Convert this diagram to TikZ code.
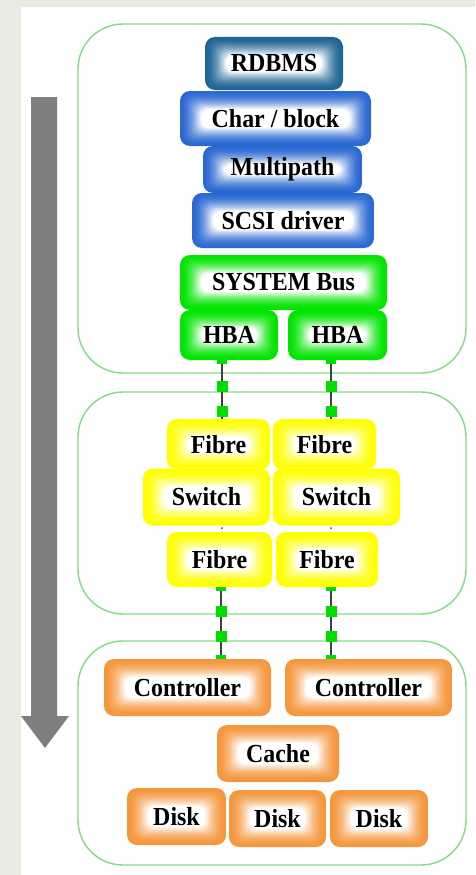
\documentclass[tikz,border=0pt]{standalone}
\usepackage{fontspec}
\setmainfont{Liberation Serif}
\newfontfamily\boxfont[FakeStretch=0.92]{Liberation Serif}
\definecolor{bg}{HTML}{EBEBE3}
\definecolor{frame}{HTML}{86D986}
\definecolor{arrowgray}{HTML}{7F7F7F}
\definecolor{cteal}{HTML}{1F6494}
\definecolor{cblue}{HTML}{2A68D2}
\definecolor{cgreen}{HTML}{00E400}
\definecolor{cyellow}{HTML}{FFFF00}
\definecolor{corange}{HTML}{F5963C}
\definecolor{cline}{HTML}{404040}
\definecolor{csq}{HTML}{00DD00}
\tikzset{
  boxcolor/.code={\colorlet{gc}{#1}},
  gbox/.style={rectangle, rounded corners=10pt, inner sep=0pt, fill=white,
    font=\boxfont\fontsize{26}{28}\selectfont\bfseries, text=black,
    path picture={
      \foreach \i in {0,...,18}{
        \pgfmathsetmacro\p{100*(1-(\i/18)^1.8)}
        \fill[gc!\p!white, rounded corners=8pt]
          ([xshift=\i*1.15pt, yshift=\i*1.0pt]path picture bounding box.south west)
          rectangle
          ([xshift=-\i*1.15pt, yshift=-\i*1.0pt]path picture bounding box.north east);
      }
    }},
  container/.style={draw=frame, line width=1.4pt, rounded corners=45pt},
  conn/.style={draw=cline, line width=1.2pt},
  sqbox/.style={fill=csq, inner sep=0pt, minimum width=11pt, minimum height=11pt},
  endcap/.style={fill=csq, inner sep=0pt, minimum width=10pt, minimum height=4pt},
}
\begin{document}
\begin{tikzpicture}[x=1pt, y=-1pt]
\useasboundingbox (0,0) rectangle (475,875);
\fill[bg] (0,0) rectangle (475,875);
\fill[white] (21,7) rectangle (475,875);

% direction arrow
\fill[arrowgray] (31,97) -- (57,97) -- (57,716) -- (69,716) -- (45,748) -- (21,716) -- (31,716) -- cycle;

% containers
\draw[container] (78,24) rectangle (466,373);
\draw[container] (78,392) rectangle (466,614);
\draw[container] (78,641) rectangle (466,865);

% host stack
\node[gbox, boxcolor=cteal, minimum width=138pt, minimum height=53pt] (rdbms) at (274,63.5) {RDBMS};
\node[gbox, boxcolor=cblue, minimum width=191pt, minimum height=55pt] (charblock) at (275.5,118.5) {Char / block};
\node[gbox, boxcolor=cblue, minimum width=159pt, minimum height=47pt] (multipath) at (282.5,169.5) {Multipath};
\node[gbox, boxcolor=cblue, minimum width=182pt, minimum height=55pt] (scsi) at (283,220.5) {SCSI driver};
\node[gbox, boxcolor=cgreen, minimum width=207pt, minimum height=55pt] (sysbus) at (283.5,282.5) {SYSTEM Bus};
\node[gbox, boxcolor=cgreen, minimum width=98pt, minimum height=50pt] (hbaL) at (229,335) {HBA};
\node[gbox, boxcolor=cgreen, minimum width=99pt, minimum height=50pt] (hbaR) at (337.5,335) {HBA};

% fabric
\node[gbox, boxcolor=cyellow, minimum width=103pt, minimum height=51pt] (ftl) at (218.5,444.5) {Fibre};
\node[gbox, boxcolor=cyellow, minimum width=103pt, minimum height=51pt] (ftr) at (324.5,444.5) {Fibre};
\node[gbox, boxcolor=cyellow, minimum width=127pt, minimum height=57pt] (swL) at (206.5,497) {Switch};
\node[gbox, boxcolor=cyellow, minimum width=127pt, minimum height=57pt] (swR) at (336.5,497) {Switch};
\node[gbox, boxcolor=cyellow, minimum width=105pt, minimum height=55pt] (fbl) at (219.5,559.5) {Fibre};
\node[gbox, boxcolor=cyellow, minimum width=102pt, minimum height=55pt] (fbr) at (327,559.5) {Fibre};

% storage
\node[gbox, boxcolor=corange, minimum width=167pt, minimum height=57pt] (ctrlL) at (187.5,687.5) {Controller};
\node[gbox, boxcolor=corange, minimum width=167pt, minimum height=57pt] (ctrlR) at (368.5,687.5) {Controller};
\node[gbox, boxcolor=corange, minimum width=122pt, minimum height=57pt] (cache) at (278,753.5) {Cache};
\node[gbox, boxcolor=corange, minimum width=99pt, minimum height=57pt] (disk1) at (176.5,816.5) {Disk};
\node[gbox, boxcolor=corange, minimum width=97pt, minimum height=57pt] (disk2) at (277.5,818.5) {Disk};
\node[gbox, boxcolor=corange, minimum width=98pt, minimum height=57pt] (disk3) at (379,818.5) {Disk};

% connectors
\coordinate (xa) at (222,0);
\coordinate (xb) at (331,0);
\coordinate (xc) at (221,0);
\draw[conn] (hbaL.south -| xa) -- (ftl.north -| xa);
\draw[conn] (hbaR.south -| xb) -- (ftr.north -| xb);
\draw[conn] (fbl.south -| xc) -- (ctrlL.north -| xc);
\draw[conn] (fbr.south -| xb) -- (ctrlR.north -| xb);

\node[endcap] (capA1) at (222,362) {};
\node[sqbox] (sqA1) at (222,386) {};
\node[sqbox] (sqA2) at (222,411) {};
\node[endcap] (capB1) at (331,362) {};
\node[sqbox] (sqB1) at (331,386) {};
\node[sqbox] (sqB2) at (331,411) {};
\node[endcap] (capC1) at (221,589) {};
\node[sqbox] (sqC1) at (221,611) {};
\node[sqbox] (sqC2) at (221,636) {};
\node[endcap] (capC2) at (221,657) {};
\node[endcap] (capD1) at (331,589) {};
\node[sqbox] (sqD1) at (331,611) {};
\node[sqbox] (sqD2) at (331,636) {};
\node[endcap] (capD2) at (331,657) {};

% tiny joints between switch and fibre
\fill[cline] (222,528) circle (1pt);
\fill[cline] (331,528) circle (1pt);
\end{tikzpicture}
\end{document}
